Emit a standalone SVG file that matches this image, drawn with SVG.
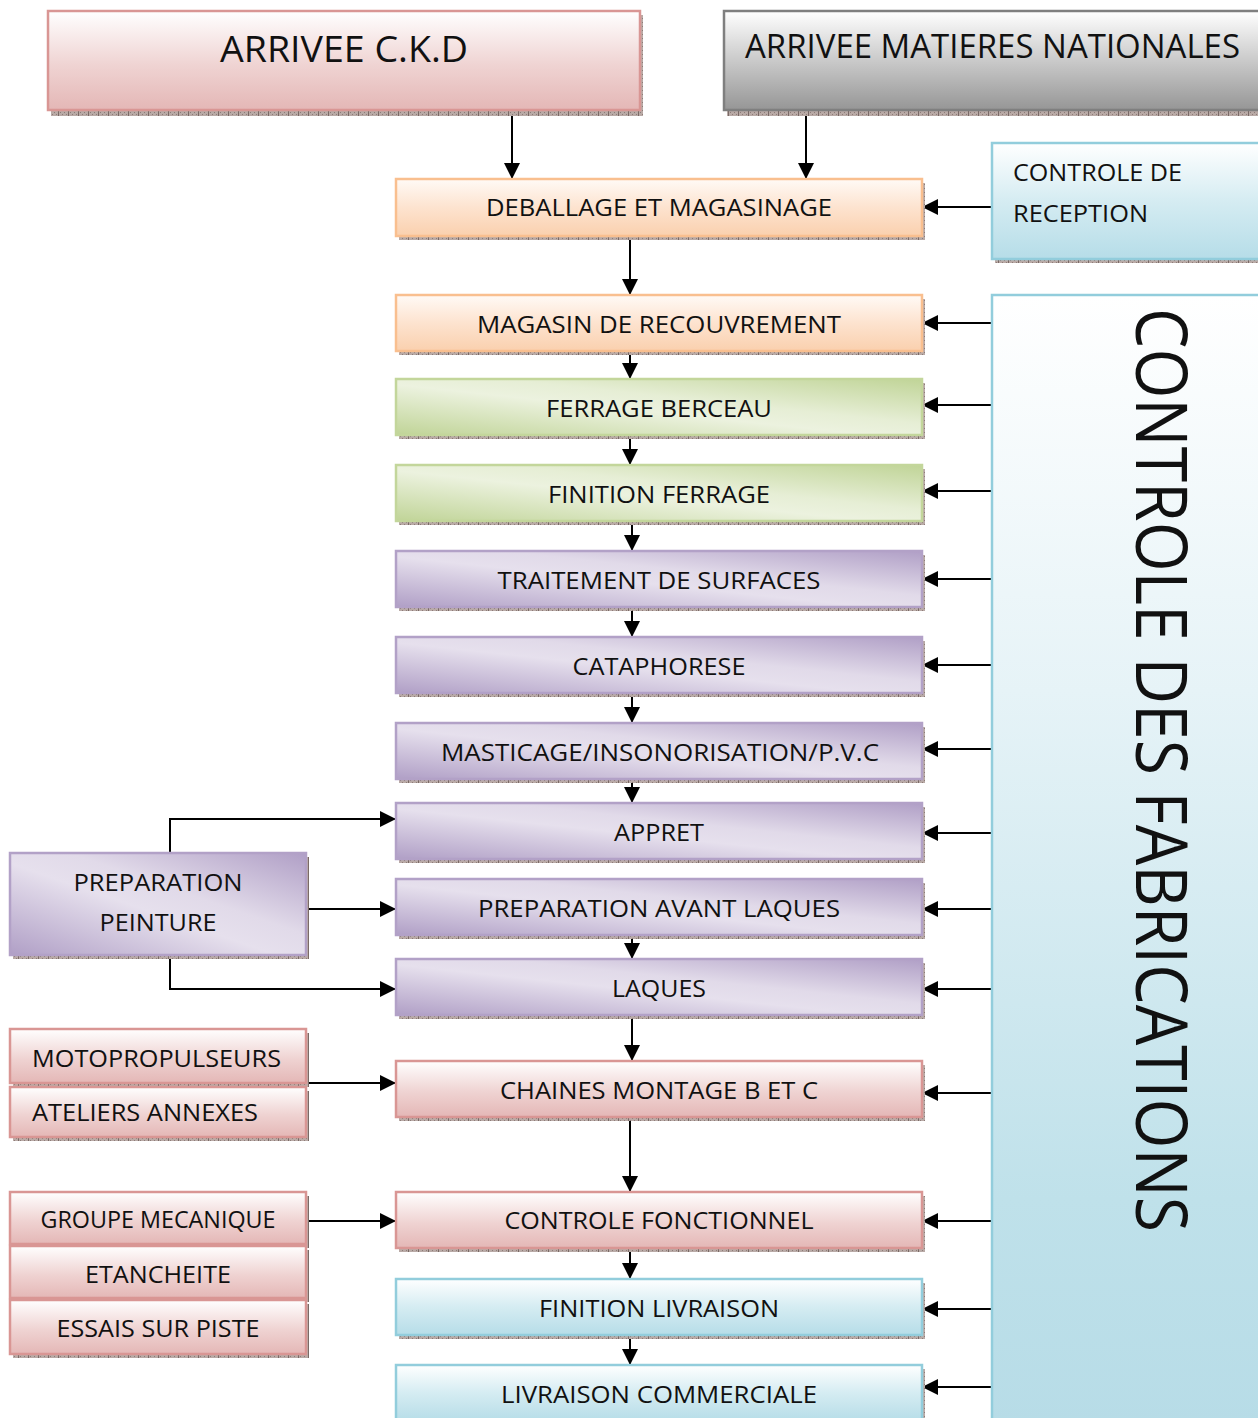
<svg xmlns="http://www.w3.org/2000/svg" width="1258" height="1418" viewBox="0 0 1258 1418">
  <defs>
    <linearGradient id="gPink" x1="0" y1="0" x2="0" y2="1">
      <stop offset="0" stop-color="#ffffff"/>
      <stop offset="0.55" stop-color="#efd3d2"/>
      <stop offset="1" stop-color="#e4b7b6"/>
    </linearGradient>
    <linearGradient id="gGray" x1="0" y1="0" x2="0" y2="1">
      <stop offset="0" stop-color="#ffffff"/>
      <stop offset="0.45" stop-color="#cfcfcf"/>
      <stop offset="1" stop-color="#969696"/>
    </linearGradient>
    <linearGradient id="gOrange" x1="0" y1="0" x2="0" y2="1">
      <stop offset="0" stop-color="#fffaf6"/>
      <stop offset="0.5" stop-color="#fde3cf"/>
      <stop offset="1" stop-color="#fad0ae"/>
    </linearGradient>
    <linearGradient id="gBlue" x1="0" y1="0" x2="0" y2="1">
      <stop offset="0" stop-color="#ffffff"/>
      <stop offset="0.5" stop-color="#d5ecf2"/>
      <stop offset="1" stop-color="#b6dde8"/>
    </linearGradient>
    <linearGradient id="gBigBlue" x1="0" y1="0" x2="0" y2="1">
      <stop offset="0" stop-color="#ffffff"/>
      <stop offset="0.35" stop-color="#e6f3f7"/>
      <stop offset="0.8" stop-color="#bfe1ea"/>
      <stop offset="1" stop-color="#b7dce7"/>
    </linearGradient>
    <linearGradient id="gGreen" x1="0" y1="1" x2="1" y2="0">
      <stop offset="0" stop-color="#c0d497"/>
      <stop offset="0.45" stop-color="#ecf2df"/>
      <stop offset="0.6" stop-color="#e6eed5"/>
      <stop offset="1" stop-color="#c0d497"/>
    </linearGradient>
    <linearGradient id="gPurple" x1="0" y1="1" x2="1" y2="0">
      <stop offset="0" stop-color="#b09fc6"/>
      <stop offset="0.45" stop-color="#e6e0ed"/>
      <stop offset="0.6" stop-color="#e1dae9"/>
      <stop offset="1" stop-color="#b09fc6"/>
    </linearGradient>
    <!-- textured drop shadow strip -->
    <pattern id="shd" width="10" height="4" patternUnits="userSpaceOnUse">
      <rect width="10" height="4" fill="#b9aaa6"/>
      <rect x="0" y="0" width="1" height="1" fill="#8d7c78"/>
      <rect x="2" y="2" width="1" height="1" fill="#8d7c78"/>
      <rect x="4" y="0" width="1" height="1" fill="#8d7c78"/>
      <rect x="6" y="2" width="1" height="1" fill="#8d7c78"/>
      <rect x="8" y="0" width="1" height="4" fill="#7a6a66"/>
    </pattern>
    <marker id="ah" viewBox="0 0 10 10" refX="10" refY="5" markerWidth="16" markerHeight="16" markerUnits="userSpaceOnUse" orient="auto">
      <path d="M0,0 L10,5 L0,10 z" fill="#000"/>
    </marker>
  </defs>
  <style>
    text { font-family: "Open Sans", "Liberation Sans", sans-serif; fill: #111; }
    .lbl { font-size: 24px; text-anchor: middle; }
    .sh { fill: url(#shd); }
    .pink { fill: url(#gPink); stroke: #d99694; stroke-width: 2.5; }
    .gray { fill: url(#gGray); stroke: #7f7f7f; stroke-width: 2.5; }
    .orange { fill: url(#gOrange); stroke: #f9bf8f; stroke-width: 2.5; }
    .green { fill: url(#gGreen); stroke: #c3d69b; stroke-width: 2.5; }
    .purple { fill: url(#gPurple); stroke: #b2a1c7; stroke-width: 2.5; }
    .blue { fill: url(#gBlue); stroke: #92cddc; stroke-width: 2.5; }
    .bigblue { fill: url(#gBigBlue); stroke: #92cddc; stroke-width: 2.5; }
    .cn { fill: none; stroke: #000; stroke-width: 2; marker-end: url(#ah); }
  </style>

  <!-- connectors -->
  <g id="connectors">
    <path class="cn" d="M512,110 V179"/>
    <path class="cn" d="M806,112 V179"/>
    <path class="cn" d="M992,207 H922"/>
    <path class="cn" d="M630,236 V295"/>
    <path class="cn" d="M630,351 V379"/>
    <path class="cn" d="M630,435 V465"/>
    <path class="cn" d="M632,521 V551"/>
    <path class="cn" d="M632,607 V637"/>
    <path class="cn" d="M632,693 V723"/>
    <path class="cn" d="M632,779 V803"/>
    <path class="cn" d="M632,935 V959"/>
    <path class="cn" d="M632,1015 V1061"/>
    <path class="cn" d="M630,1117 V1192"/>
    <path class="cn" d="M630,1248 V1279"/>
    <path class="cn" d="M630,1335 V1365"/>
    <!-- feeds from the control column -->
    <path class="cn" d="M992,323 H922"/>
    <path class="cn" d="M992,405 H922"/>
    <path class="cn" d="M992,491 H922"/>
    <path class="cn" d="M992,579 H922"/>
    <path class="cn" d="M992,665 H922"/>
    <path class="cn" d="M992,749 H922"/>
    <path class="cn" d="M992,833 H922"/>
    <path class="cn" d="M992,909 H922"/>
    <path class="cn" d="M992,989 H922"/>
    <path class="cn" d="M992,1093 H922"/>
    <path class="cn" d="M992,1221 H922"/>
    <path class="cn" d="M992,1309 H922"/>
    <path class="cn" d="M992,1387 H922"/>
    <!-- side workshops -->
    <path class="cn" d="M170,853 V819 H396"/>
    <path class="cn" d="M306,909 H396"/>
    <path class="cn" d="M170,955 V989 H396"/>
    <path class="cn" d="M306,1083 H396"/>
    <path class="cn" d="M306,1221 H396"/>
  </g>

  <g id="arrivee-ckd">
    <rect class="sh" x="51" y="15" width="592" height="101"/>
    <rect class="pink" x="48" y="11" width="592" height="99"/>
    <text x="344" y="62" font-size="36" text-anchor="middle" textLength="248" lengthAdjust="spacingAndGlyphs">ARRIVEE C.K.D</text>
  </g>

  <g id="arrivee-matieres">
    <rect class="sh" x="727" y="15" width="540" height="101"/>
    <rect class="gray" x="724" y="11" width="540" height="99"/>
    <text x="745" y="58" font-size="32" textLength="495" lengthAdjust="spacingAndGlyphs">ARRIVEE MATIERES NATIONALES</text>
  </g>

  <g id="controle-reception">
    <rect class="sh" x="995" y="147" width="270" height="116"/>
    <rect class="blue" x="992" y="143" width="270" height="116"/>
    <text x="1013" y="181" font-size="24" textLength="169" lengthAdjust="spacingAndGlyphs">CONTROLE DE</text>
    <text x="1013" y="222" font-size="24" textLength="135" lengthAdjust="spacingAndGlyphs">RECEPTION</text>
  </g>

  <g id="controle-fabrications">
    <rect class="bigblue" x="992" y="295" width="270" height="1130"/>
    <text transform="translate(1136,770) rotate(90)" x="0" y="0" font-size="72" text-anchor="middle" textLength="924" lengthAdjust="spacingAndGlyphs">CONTROLE DES FABRICATIONS</text>
  </g>

  <g id="deballage">
    <rect class="sh" x="399" y="183" width="526" height="57"/>
    <rect class="orange" x="396" y="179" width="526" height="57"/>
    <text class="lbl" x="659" y="216" textLength="346" lengthAdjust="spacingAndGlyphs">DEBALLAGE ET MAGASINAGE</text>
  </g>

  <g id="magasin-recouvrement">
    <rect class="sh" x="399" y="299" width="526" height="56"/>
    <rect class="orange" x="396" y="295" width="526" height="56"/>
    <text class="lbl" x="659" y="333" textLength="364" lengthAdjust="spacingAndGlyphs">MAGASIN DE RECOUVREMENT</text>
  </g>

  <g id="ferrage-berceau">
    <rect class="sh" x="399" y="383" width="526" height="56"/>
    <rect class="green" x="396" y="379" width="526" height="56"/>
    <text class="lbl" x="659" y="417" textLength="226" lengthAdjust="spacingAndGlyphs">FERRAGE BERCEAU</text>
  </g>

  <g id="finition-ferrage">
    <rect class="sh" x="399" y="469" width="526" height="56"/>
    <rect class="green" x="396" y="465" width="526" height="56"/>
    <text class="lbl" x="659" y="503" textLength="222" lengthAdjust="spacingAndGlyphs">FINITION FERRAGE</text>
  </g>

  <g id="traitement-surfaces">
    <rect class="sh" x="399" y="555" width="526" height="56"/>
    <rect class="purple" x="396" y="551" width="526" height="56"/>
    <text class="lbl" x="659" y="589" textLength="323" lengthAdjust="spacingAndGlyphs">TRAITEMENT DE SURFACES</text>
  </g>

  <g id="cataphorese">
    <rect class="sh" x="399" y="641" width="526" height="56"/>
    <rect class="purple" x="396" y="637" width="526" height="56"/>
    <text class="lbl" x="659" y="675" textLength="173" lengthAdjust="spacingAndGlyphs">CATAPHORESE</text>
  </g>

  <g id="masticage">
    <rect class="sh" x="399" y="727" width="526" height="56"/>
    <rect class="purple" x="396" y="723" width="526" height="56"/>
    <text class="lbl" x="660" y="761" textLength="438" lengthAdjust="spacingAndGlyphs">MASTICAGE/INSONORISATION/P.V.C</text>
  </g>

  <g id="appret">
    <rect class="sh" x="399" y="807" width="526" height="56"/>
    <rect class="purple" x="396" y="803" width="526" height="56"/>
    <text class="lbl" x="659" y="841" textLength="90" lengthAdjust="spacingAndGlyphs">APPRET</text>
  </g>

  <g id="preparation-avant-laques">
    <rect class="sh" x="399" y="883" width="526" height="56"/>
    <rect class="purple" x="396" y="879" width="526" height="56"/>
    <text class="lbl" x="659" y="917" textLength="362" lengthAdjust="spacingAndGlyphs">PREPARATION AVANT LAQUES</text>
  </g>

  <g id="laques">
    <rect class="sh" x="399" y="963" width="526" height="56"/>
    <rect class="purple" x="396" y="959" width="526" height="56"/>
    <text class="lbl" x="659" y="997" textLength="94" lengthAdjust="spacingAndGlyphs">LAQUES</text>
  </g>

  <g id="chaines-montage">
    <rect class="sh" x="399" y="1065" width="526" height="56"/>
    <rect class="pink" x="396" y="1061" width="526" height="56"/>
    <text class="lbl" x="659" y="1099" textLength="318" lengthAdjust="spacingAndGlyphs">CHAINES MONTAGE B ET C</text>
  </g>

  <g id="controle-fonctionnel">
    <rect class="sh" x="399" y="1196" width="526" height="56"/>
    <rect class="pink" x="396" y="1192" width="526" height="56"/>
    <text class="lbl" x="659" y="1229" textLength="309" lengthAdjust="spacingAndGlyphs">CONTROLE FONCTIONNEL</text>
  </g>

  <g id="finition-livraison">
    <rect class="sh" x="399" y="1283" width="526" height="56"/>
    <rect class="blue" x="396" y="1279" width="526" height="56"/>
    <text class="lbl" x="659" y="1317" textLength="240" lengthAdjust="spacingAndGlyphs">FINITION LIVRAISON</text>
  </g>

  <g id="livraison-commerciale">
    <rect class="sh" x="399" y="1369" width="526" height="56"/>
    <rect class="blue" x="396" y="1365" width="526" height="56"/>
    <text class="lbl" x="659" y="1403" textLength="316" lengthAdjust="spacingAndGlyphs">LIVRAISON COMMERCIALE</text>
  </g>

  <g id="preparation-peinture">
    <rect class="sh" x="13" y="857" width="296" height="102"/>
    <rect class="purple" x="10" y="853" width="296" height="102"/>
    <text class="lbl" x="158" y="891" textLength="169" lengthAdjust="spacingAndGlyphs">PREPARATION</text>
    <text class="lbl" x="158" y="931" textLength="117" lengthAdjust="spacingAndGlyphs">PEINTURE</text>
  </g>

  <g id="motopropulseurs">
    <rect class="sh" x="13" y="1033" width="296" height="54"/>
    <rect class="pink" x="10" y="1029" width="296" height="54"/>
    <text x="32" y="1067" font-size="24" textLength="249" lengthAdjust="spacingAndGlyphs">MOTOPROPULSEURS</text>
  </g>

  <g id="ateliers-annexes">
    <rect class="sh" x="13" y="1091" width="296" height="50"/>
    <rect class="pink" x="10" y="1087" width="296" height="50"/>
    <text x="32" y="1121" font-size="24" textLength="226" lengthAdjust="spacingAndGlyphs">ATELIERS ANNEXES</text>
  </g>

  <g id="groupe-mecanique">
    <rect class="sh" x="13" y="1196" width="296" height="52"/>
    <rect class="pink" x="10" y="1192" width="296" height="52"/>
    <text class="lbl" x="158" y="1228" font-size="22" textLength="235" lengthAdjust="spacingAndGlyphs">GROUPE MECANIQUE</text>
  </g>

  <g id="etancheite">
    <rect class="sh" x="13" y="1250" width="296" height="52"/>
    <rect class="pink" x="10" y="1246" width="296" height="52"/>
    <text class="lbl" x="158" y="1283" textLength="146" lengthAdjust="spacingAndGlyphs">ETANCHEITE</text>
  </g>

  <g id="essais-piste">
    <rect class="sh" x="13" y="1304" width="296" height="54"/>
    <rect class="pink" x="10" y="1300" width="296" height="54"/>
    <text class="lbl" x="158" y="1337" textLength="203" lengthAdjust="spacingAndGlyphs">ESSAIS SUR PISTE</text>
  </g>
</svg>
